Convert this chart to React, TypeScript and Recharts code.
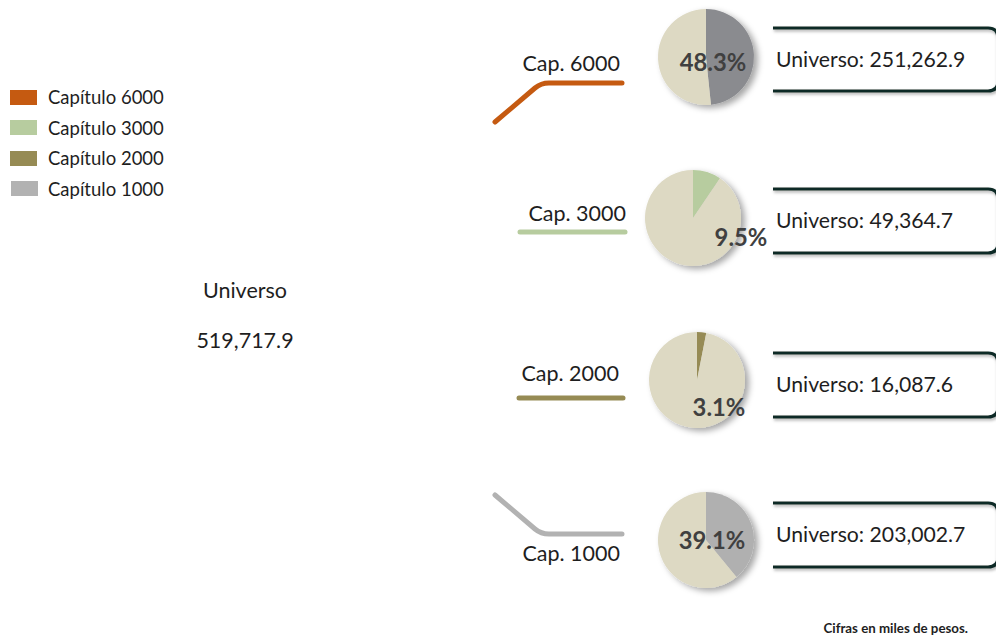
import React from 'react';
import { PieChart, Pie, Cell } from 'recharts';

const chapters = ['Capítulo 6000', 'Capítulo 3000', 'Capítulo 2000', 'Capítulo 1000'];
const capLabels = ['Cap. 6000', 'Cap. 3000', 'Cap. 2000', 'Cap. 1000'];
const amounts = [251262.9, 49364.7, 16087.6, 203002.7];
const universe = 519717.9;

const legendColors = ['#c55a11', '#b7cc9f', '#968b54', '#b2b2b2'];
const sliceColors = ['#8a8b8f', '#b7cc9f', '#968b54', '#b0b0b0'];
const restColor = '#ddd9c3';

const W = 996;
const H = 635;
const FONT = 'Lato, "Noto Sans", sans-serif';

// placement of each chapter row (pie, connector, caption and total box)
const rows = [
  { cx: 706, cy: 57, pctDx: 7, pctDy: 5, capX: 620, capY: 63, lineY: 83, lineX0: 495, lineX1: 622, bend: 1, boxTop: 28, boxBottom: 91 },
  { cx: 693, cy: 218, pctDx: 48, pctDy: 19, capX: 626, capY: 213, lineY: 232, lineX0: 520, lineX1: 625, bend: 0, boxTop: 189, boxBottom: 253 },
  { cx: 697, cy: 380, pctDx: 22, pctDy: 27, capX: 619, capY: 373, lineY: 398, lineX0: 519, lineX1: 623, bend: 0, boxTop: 353, boxBottom: 417 },
  { cx: 706, cy: 540, pctDx: 6, pctDy: 0, capX: 620, capY: 553, lineY: 534, lineX0: 495, lineX1: 622, bend: -1, boxTop: 503, boxBottom: 567 },
];

const fmt = (v: number) =>
  v.toLocaleString('en-US', { minimumFractionDigits: 1, maximumFractionDigits: 1 });

const pct = (v: number) => `${((v / universe) * 100).toFixed(1)}%`;

function connectorPath(r: (typeof rows)[number]) {
  if (r.bend === 0) return `M${r.lineX0},${r.lineY} H${r.lineX1}`;
  const knee = 549;
  const y0 = r.lineY + r.bend * 39;
  return `M${r.lineX0},${y0} L${knee - 14},${r.lineY + r.bend * 5} Q${knee - 8},${r.lineY} ${knee},${r.lineY} H${r.lineX1}`;
}

function bracketPath(top: number, bottom: number) {
  const left = 773;
  const right = 998;
  const rad = 10;
  return `M${left},${top} H${right - rad} Q${right},${top} ${right},${top + rad} V${bottom - rad} Q${right},${bottom} ${right - rad},${bottom} H${left}`;
}

function ChapterLegend() {
  return (
    <div style={{ position: 'absolute', left: 10, top: 82, fontFamily: FONT, fontSize: 18.5, color: '#1e1e1e' }}>
      {chapters.map((name, i) => (
        <div key={name} style={{ display: 'flex', alignItems: 'center', height: 30.5 }}>
          <span
            style={{
              display: 'inline-block',
              width: 27,
              height: 15,
              marginLeft: i === 3 ? 1 : 0,
              marginRight: i === 3 ? 10 : 11,
              background: legendColors[i],
            }}
          />
          <span>{name}</span>
        </div>
      ))}
    </div>
  );
}

export default function App() {
  return (
    <div style={{ position: 'absolute', left: 0, top: 0, width: W, height: H, background: '#fff', overflow: 'hidden' }}>
      <style>{`.recharts-pie { filter: url(#pieShadow); }`}</style>

      <PieChart width={W} height={H} margin={{ top: 0, right: 0, bottom: 0, left: 0 }}>
        {rows.map((r, i) => (
          <Pie
            key={chapters[i]}
            data={[
              { name: chapters[i], value: amounts[i] },
              { name: 'Resto', value: universe - amounts[i] },
            ]}
            dataKey="value"
            cx={r.cx}
            cy={r.cy}
            outerRadius={48}
            startAngle={90}
            endAngle={-270}
            stroke="none"
            isAnimationActive={false}
          >
            <Cell fill={sliceColors[i]} />
            <Cell fill={restColor} />
          </Pie>
        ))}
      </PieChart>

      <svg width={W} height={H} style={{ position: 'absolute', left: 0, top: 0, pointerEvents: 'none' }} fontFamily={FONT}>
        <defs>
          <filter id="pieShadow" x="-30%" y="-30%" width="160%" height="160%">
            <feDropShadow dx="4" dy="3" stdDeviation="3" floodColor="#000" floodOpacity="0.35" />
          </filter>
          <filter id="boxShadow" x="-5%" y="-30%" width="110%" height="160%">
            <feDropShadow dx="1" dy="2" stdDeviation="1.5" floodColor="#000" floodOpacity="0.3" />
          </filter>
        </defs>

        <text x={245} y={290} textAnchor="middle" dominantBaseline="central" fontSize={21.5} fill="#1e1e1e">
          Universo
        </text>
        <text x={245} y={340} textAnchor="middle" dominantBaseline="central" fontSize={21.5} fill="#1e1e1e">
          {fmt(universe)}
        </text>

        {rows.map((r, i) => (
          <g key={capLabels[i]}>
            <path d={connectorPath(r)} fill="none" stroke={legendColors[i]} strokeWidth={5} strokeLinecap="round" strokeLinejoin="round" />
            <text x={r.capX} y={r.capY} textAnchor="end" dominantBaseline="central" fontSize={21.5} fill="#1e1e1e">
              {capLabels[i]}
            </text>
            <path d={bracketPath(r.boxTop, r.boxBottom)} fill="none" stroke="#0e2b27" strokeWidth={3.2} filter="url(#boxShadow)" />
            <text x={776} y={(r.boxTop + r.boxBottom) / 2 - 1} dominantBaseline="central" fontSize={21.2} fill="#1e1e1e">
              {`Universo: ${fmt(amounts[i])}`}
            </text>
            <text
              x={r.cx + r.pctDx}
              y={r.cy + r.pctDy}
              textAnchor="middle"
              dominantBaseline="central"
              fontSize={23.8}
              fontWeight={700}
              fill="#404040"
            >
              {pct(amounts[i])}
            </text>
          </g>
        ))}

        <text x={968} y={628} textAnchor="end" dominantBaseline="central" fontSize={13.3} fontWeight={700} fill="#1e1e1e">
          Cifras en miles de pesos.
        </text>
      </svg>

      <ChapterLegend />
    </div>
  );
}
